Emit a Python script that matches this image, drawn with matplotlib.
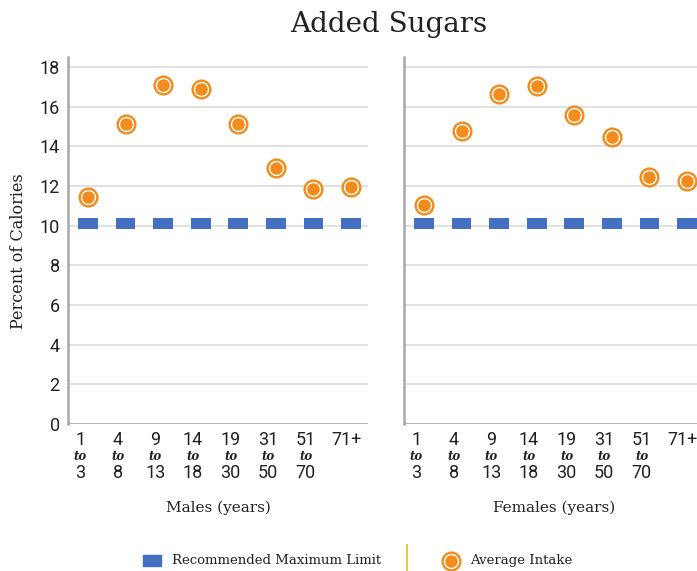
import matplotlib
matplotlib.use("Agg")
import matplotlib.pyplot as plt
from matplotlib.patches import Rectangle
from matplotlib.lines import Line2D

# data
ages_top = ["1", "4", "9", "14", "19", "31", "51", "71+"]
ages_bottom = ["3", "8", "13", "18", "30", "50", "70", ""]
males_intake = [11.45, 15.1, 17.1, 16.9, 15.1, 12.9, 11.85, 11.95]
females_intake = [11.05, 14.75, 16.65, 17.05, 15.6, 14.45, 12.45, 12.25]
max_limit = [10, 10, 10, 10, 10, 10, 10, 10]
panel_labels = ["Males (years)", "Females (years)"]

BLUE = "#4370c0"
ORANGE = "#f28c1c"
GRID = "#dedede"
SPINE = "#a8a8a8"
TEXT = "#222222"

fig = plt.figure(figsize=(6.97, 5.71), dpi=100)
ax_l = fig.add_axes([68 / 697, 1 - 424 / 571, 300 / 697, 367 / 571])
ax_r = fig.add_axes([404 / 697, 1 - 424 / 571, 300 / 697, 367 / 571])


def draw_panel(ax, values, label, show_y):
    x = list(range(len(values)))
    ax.set_xlim(-0.53, 7.45)
    ax.set_ylim(0, 18.5)
    ax.set_yticks(range(0, 19, 2))
    ax.grid(axis="y", color=GRID, linewidth=1.3)
    ax.set_axisbelow(True)
    for s in ["top", "right", "bottom"]:
        ax.spines[s].set_visible(False)
    ax.spines["left"].set_color(SPINE)
    ax.spines["left"].set_linewidth(1.8)
    ax.axhline(0, color=SPINE, linewidth=1.8, zorder=1)
    ax.set_xticks([])
    ax.tick_params(axis="y", length=0, pad=6, labelsize=13, labelcolor=TEXT)
    for t in ax.get_yticklabels():
        t.set_family("Roboto")
    if not show_y:
        ax.set_yticklabels([])

    # recommended limit as short blue bars
    ax.bar(x, [0.55] * len(x), bottom=[v - 0.15 for v in max_limit], width=0.53,
           color=BLUE, zorder=3)
    # average intake as ringed circles
    ax.plot(x, values, "o", ms=13.5, color=ORANGE, zorder=4, linestyle="none")
    ax.plot(x, values, "o", ms=10, mfc=ORANGE, mec="white", mew=1.0, zorder=5,
            linestyle="none")

    # tick labels sit a little left of the marks, as in the source
    for i in x:
        dx = -3 if ages_top[i] == "71+" else -5.5
        ax.annotate(ages_top[i], (i, 0), xycoords=("data", "axes fraction"),
                    xytext=(dx, -11.5), textcoords="offset points", ha="center",
                    va="center", fontsize=13, family="Roboto", color=TEXT)
        if ages_bottom[i]:
            ax.annotate("to", (i, 0), xycoords=("data", "axes fraction"),
                        xytext=(dx, -23.5), textcoords="offset points", ha="center",
                        va="center", fontsize=8.5, family="DejaVu Serif",
                        style="italic", weight="bold", color=TEXT)
            ax.annotate(ages_bottom[i], (i, 0), xycoords=("data", "axes fraction"),
                        xytext=(dx, -35.5), textcoords="offset points", ha="center",
                        va="center", fontsize=13, family="Roboto", color=TEXT)
    ax.annotate(label, (0.5, 0), xycoords="axes fraction", xytext=(0, -60),
                textcoords="offset points", ha="center", va="center",
                fontsize=11, family="DejaVu Serif", color=TEXT)


draw_panel(ax_l, males_intake, panel_labels[0], True)
draw_panel(ax_r, females_intake, panel_labels[1], False)
ax_l.set_ylabel("Percent of Calories", family="DejaVu Serif", fontsize=11.5,
                color=TEXT)
ax_l.yaxis.set_label_coords(-0.138, 0.47)

fig.text(0.557, 0.957, "Added Sugars", ha="center", va="center",
         family="DejaVu Serif", fontsize=20, color=TEXT)

# legend strip along the bottom
lax = fig.add_axes([0, 0, 1, 0.06])
lax.set_xlim(0, 697)
lax.set_ylim(0, 0.06 * 571)
lax.axis("off")
lax.add_patch(Rectangle((143, 5), 18, 11, color=BLUE))
lax.text(172, 10.5, "Recommended Maximum Limit", va="center", ha="left",
         family="DejaVu Serif", fontsize=9.5, color=TEXT)
lax.add_line(Line2D([407, 407], [0, 26], color="#f5c342", linewidth=1.5))
lax.plot([451], [10.5], "o", ms=13.5, color=ORANGE)
lax.plot([451], [10.5], "o", ms=10, mfc=ORANGE, mec="white", mew=1.0)
lax.text(470, 10.5, "Average Intake", va="center", ha="left",
         family="DejaVu Serif", fontsize=9.5, color=TEXT)

fig.savefig("out.png", dpi=100)
